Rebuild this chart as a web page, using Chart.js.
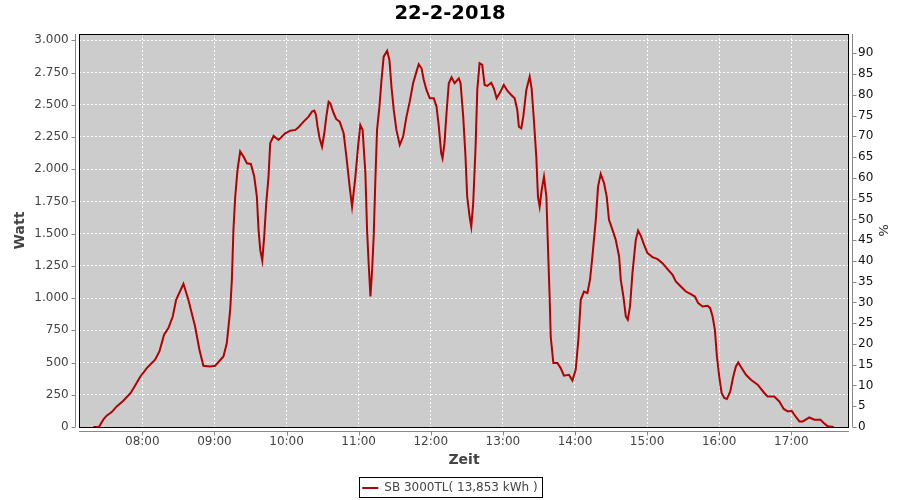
<!DOCTYPE html>
<html>
<head>
<meta charset="utf-8">
<script src="https://cdn.jsdelivr.net/npm/chart.js@4/dist/chart.umd.min.js"></script>
<style>
  html, body { margin: 0; padding: 0; background: #ffffff; }
  canvas { display: block; }
</style>
</head>
<body>
<canvas id="c" width="900" height="500"></canvas>
<script>
// ---- data ----
const chartTitle = '22-2-2018';
const seriesLabel = 'SB 3000TL( 13,853 kWh )';
const xAxisTitle = 'Zeit';
const yAxisTitle = 'Watt';
const y2AxisTitle = '%';

// time of each reading, minutes after midnight
const minutes = [
  439.2, 443.9, 447.5, 450.3, 454.5, 458.7, 464.2, 470.3, 473.9, 478.1,
  483.7, 490.6, 494.2, 498.1, 501.7, 505.3, 508.1, 514.2, 518.3, 523.9,
  527.5, 530.8, 536.4, 540.6, 547.5, 550.3, 553.1, 554.5, 555.8, 557.3,
  559.2, 561.4, 564.2, 567, 570.3, 573.1, 575.3, 576.7, 578.1, 579.8,
  581.4, 583.1, 585, 586.4, 589.2, 593.3, 598.9, 603.1, 607.3, 610,
  614.2, 618.3, 621.2, 623.1, 624.5, 625.8, 627.5, 629.5, 631.4, 633.1,
  635, 636.4, 639.2, 641.4, 644.2, 647.5, 649.8, 652.5, 654.5, 657.3,
  659.5, 661.4, 663.3, 665.6, 667, 668.3, 669.8, 671.2, 672.5, 673.9,
  675.3, 677.3, 678.9, 680.8, 683.7, 685.6, 687.3, 689.2, 691.4, 694.2,
  697, 699.8, 702.5, 705.3, 708.1, 710, 712.3, 714.2, 716.4, 719.2,
  722.5, 724.8, 726.7, 728.7, 729.8, 731.4, 733.1, 735, 737.3, 739.8,
  743.3, 744.8, 747, 748.9, 750.3, 752.3, 753.7, 755.3, 757.3, 758.7,
  760.6, 762.8, 764.8, 767, 770.3, 772.5, 774.8, 778.1, 780.8, 783.7,
  787, 789.8, 792, 793.3, 795.3, 797, 799.5, 802.3, 803.9, 805.8,
  807.8, 809.2, 810.6, 812.3, 814.2, 816.2, 817.5, 818.9, 819.8, 822,
  825.3, 828.1, 830.8, 835, 837.8, 840.6, 842.8, 844.8, 847.5, 850.3,
  852.5, 854.5, 857.3, 859.2, 861.4, 864.2, 866.4, 868.3, 871.2, 873.9,
  876.7, 878.1, 880.3, 882.3, 883.9, 885.8, 887.8, 889.2, 890.6, 892.5,
  894.8, 897.5, 900.3, 904.5, 908.7, 912.8, 917, 921.2, 923.9, 928.1,
  932.3, 936.4, 939.8, 942.5, 946.2, 950.3, 952.5, 954.5, 956.4, 958.1,
  960, 962, 964.2, 966.4, 969.2, 971.7, 973.9, 975.8, 978.1, 982.3,
  986.4, 992, 997.5, 1000.3, 1005.8, 1010, 1013.7, 1017, 1020.3, 1022.5,
  1026.7, 1029.5, 1035, 1039.2, 1044.2, 1047, 1050.3, 1055.3
];

// power in watts at each reading
const watts = [
  0, 0, 57, 88, 116, 160, 204, 264, 320, 388,
  457, 522, 586, 716, 767, 857, 987, 1111, 987, 780,
  599, 475, 470, 475, 547, 651, 909, 1142, 1529, 1788,
  1995, 2137, 2098, 2046, 2041, 1943, 1788, 1529, 1374, 1291,
  1477, 1736, 1943, 2202, 2258, 2227, 2279, 2299, 2305, 2326,
  2369, 2408, 2447, 2455, 2421, 2330, 2240, 2175, 2279, 2408,
  2524, 2512, 2434, 2388, 2369, 2279, 2098, 1865, 1710, 1943,
  2175, 2343, 2305, 1969, 1529, 1271, 1012, 1219, 1477, 1917,
  2305, 2485, 2679, 2873, 2919, 2847, 2640, 2460, 2305, 2188,
  2253, 2408, 2524, 2667, 2757, 2814, 2783, 2692, 2615, 2550,
  2550, 2485, 2330, 2124, 2085, 2202, 2434, 2667, 2713, 2667,
  2705, 2667, 2408, 2098, 1788, 1633, 1555, 1736, 2175, 2615,
  2822, 2809, 2654, 2646, 2671, 2628, 2550, 2602, 2654, 2609,
  2576, 2550, 2460, 2330, 2318, 2408, 2615, 2718, 2628, 2382,
  2098, 1788, 1710, 1840, 1943, 1788, 1400, 1012, 702, 496,
  496, 457, 398, 405, 361, 444, 677, 987, 1051, 1039,
  1142, 1323, 1607, 1865, 1964, 1891, 1788, 1607, 1529, 1452,
  1323, 1142, 1012, 857, 832, 935, 1194, 1323, 1452, 1524,
  1483, 1413, 1349, 1318, 1302, 1271, 1225, 1181, 1129, 1090,
  1051, 1031, 1012, 961, 935, 940, 922, 857, 754, 547,
  392, 264, 225, 217, 276, 392, 470, 501, 465, 405,
  367, 328, 264, 237, 237, 198, 140, 121, 126, 95,
  43, 43, 74, 57, 57, 31, 5, 0
];

// tick labels
const hourLabels = ['08:00', '09:00', '10:00', '11:00', '12:00', '13:00', '14:00', '15:00', '16:00', '17:00'];
const wattTickLabels = ['0', '250', '500', '750', '1.000', '1.250', '1.500', '1.750', '2.000', '2.250', '2.500', '2.750', '3.000'];
const pctTickLabels = ['0', '5', '10', '15', '20', '25', '30', '35', '40', '45', '50', '55', '60', '65', '70', '75', '80', '85', '90'];

// axis ranges
const xRange = [427.3, 1068.0];
const wattRange = [0, 3049];
const pctRange = [0, 94.65];

// ---- helpers ----
const FONT = '"DejaVu Sans", "Liberation Sans", sans-serif';
const LINE_COLOR = '#b40000';
const hmToMin = s => { const p = s.split(':'); return (+p[0]) * 60 + (+p[1]); };
const hourValues = hourLabels.map(hmToMin);
const wattValues = wattTickLabels.map(s => +s.replace(/\./g, ''));
const pctValues = pctTickLabels.map(Number);

const plotDecor = {
  id: 'plotDecor',
  beforeDraw(chart) {
    const { ctx, chartArea: a } = chart;
    ctx.save();
    ctx.fillStyle = '#cccccc';
    ctx.fillRect(a.left, a.top, a.right - a.left, a.bottom - a.top);
    ctx.restore();
  },
  afterDraw(chart) {
    const { ctx, chartArea: a, scales } = chart;
    ctx.save();
    // plot outline
    ctx.strokeStyle = '#000000';
    ctx.lineWidth = 1;
    ctx.strokeRect(a.left + 0.5, a.top + 0.5, a.right - a.left - 1, a.bottom - a.top);
    // offset axis lines + tick marks
    ctx.strokeStyle = '#888888';
    ctx.beginPath();
    const lx = a.left - 3.5;
    ctx.moveTo(lx, a.top); ctx.lineTo(lx, a.bottom);
    scales.y.ticks.forEach(t => {
      const py = Math.round(scales.y.getPixelForValue(t.value)) + 0.5;
      ctx.moveTo(lx - 4, py); ctx.lineTo(lx, py);
    });
    const rx = a.right + 3.5;
    ctx.moveTo(rx, a.top); ctx.lineTo(rx, a.bottom);
    scales.y2.ticks.forEach(t => {
      const py = Math.round(scales.y2.getPixelForValue(t.value)) + 0.5;
      ctx.moveTo(rx, py); ctx.lineTo(rx + 4, py);
    });
    const by = a.bottom + 4.5;
    ctx.moveTo(a.left, by); ctx.lineTo(a.right, by);
    scales.x.ticks.forEach(t => {
      const px = Math.round(scales.x.getPixelForValue(t.value)) + 0.5;
      ctx.moveTo(px, by); ctx.lineTo(px, by + 4);
    });
    ctx.stroke();
    // legend frame
    const hb = chart.legend && chart.legend.legendHitBoxes && chart.legend.legendHitBoxes[0];
    if (hb) {
      ctx.strokeStyle = '#000000';
      const l = Math.round(hb.left) - 2.5, t = Math.round(hb.top) - 4.5;
      const r = Math.round(hb.left + hb.width) + 4.5, b = Math.round(hb.top + hb.height) + 3.5;
      ctx.strokeRect(l, t, r - l, b - t);
    }
    ctx.restore();
  }
};

new Chart(document.getElementById('c'), {
  type: 'line',
  data: {
    datasets: [{
      label: seriesLabel,
      data: minutes.map((m, i) => ({ x: m, y: watts[i] })),
      borderColor: LINE_COLOR,
      backgroundColor: LINE_COLOR,
      borderWidth: 2,
      pointRadius: 0,
      tension: 0,
      xAxisID: 'x',
      yAxisID: 'y'
    }]
  },
  options: {
    responsive: false,
    animation: false,
    devicePixelRatio: 1,
    layout: { padding: 0 },
    plugins: {
      tooltip: { enabled: false },
      title: {
        display: true,
        text: chartTitle,
        color: '#000000',
        font: { family: FONT, size: 19.5, weight: 'bold' },
        padding: { top: 2, bottom: 8.6 }
      },
      legend: {
        position: 'bottom',
        maxHeight: 22,
        labels: {
          font: { family: FONT, size: 12 },
          color: '#444444',
          boxWidth: 16,
          boxHeight: 2,
          padding: 4,
          generateLabels: () => [{
            text: seriesLabel, fillStyle: LINE_COLOR, strokeStyle: LINE_COLOR,
            lineWidth: 0, hidden: false, datasetIndex: 0, fontColor: '#444444'
          }]
        }
      }
    },
    scales: {
      x: {
        type: 'linear',
        position: 'bottom',
        min: xRange[0],
        max: xRange[1],
        afterBuildTicks: s => { s.ticks = hourValues.map(v => ({ value: v })); },
        afterFit: s => { s.height = 51; },
        ticks: {
          autoSkip: false, maxRotation: 0, padding: 7.5,
          color: '#444444', font: { family: FONT, size: 12 },
          callback: (v, i) => hourLabels[i]
        },
        grid: { color: '#ffffff', lineWidth: 1, drawTicks: false },
        border: { display: false, dash: [2, 2] },
        title: {
          display: true, text: xAxisTitle, color: '#444444',
          font: { family: FONT, size: 14, weight: 'bold' },
          padding: { top: 0, bottom: 9.6 }
        }
      },
      y: {
        type: 'linear',
        position: 'left',
        min: wattRange[0],
        max: wattRange[1],
        afterBuildTicks: s => { s.ticks = wattValues.map(v => ({ value: v })); },
        afterFit: s => { s.width = 79; },
        ticks: {
          autoSkip: false, padding: 10.3,
          color: '#444444', font: { family: FONT, size: 12 },
          callback: (v, i) => wattTickLabels[i]
        },
        grid: { color: '#ffffff', lineWidth: 1, drawTicks: false },
        border: { display: false, dash: [2, 2] },
        title: {
          display: true, text: yAxisTitle, color: '#444444',
          font: { family: FONT, size: 14, weight: 'bold' },
          padding: { top: 12.1, bottom: 0 }
        }
      },
      y2: {
        type: 'linear',
        position: 'right',
        min: pctRange[0],
        max: pctRange[1],
        afterBuildTicks: s => { s.ticks = pctValues.map(v => ({ value: v })); },
        afterFit: s => { s.width = 51; },
        ticks: {
          autoSkip: false, padding: 9,
          color: '#111111', font: { family: FONT, size: 12 },
          callback: (v, i) => pctTickLabels[i]
        },
        grid: { display: false, drawOnChartArea: false, drawTicks: false },
        border: { display: false },
        title: {
          display: true, text: y2AxisTitle, color: '#222222',
          font: { family: FONT, size: 13 },
          padding: { top: 9.7, bottom: 0 }
        }
      }
    }
  },
  plugins: [plotDecor]
});
</script>
</body>
</html>
